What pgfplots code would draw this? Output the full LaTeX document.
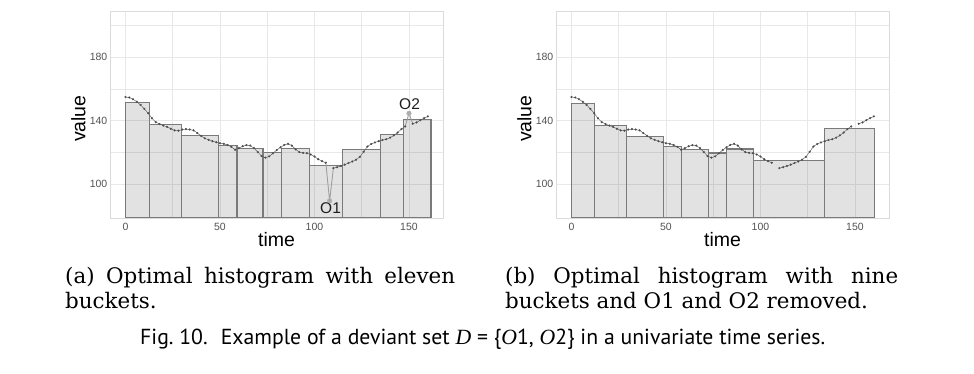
\documentclass[border=0pt]{standalone}
\usepackage{pgfplots}
\pgfplotsset{compat=1.18}
\usepackage{pgfplotstable}
\usepackage{graphicx}
\usepackage{fontspec}
\setmainfont{Liberation Sans}
\newfontfamily\capserif{DejaVu Serif}
\newfontfamily\capsans{PT Sans}
\newfontfamily\capmath{Liberation Serif}

\pgfplotstableread{
t v
0 155.0
2 154.7
4 153.6
6 152.0
8 150.0
10 147.5
12 144.8
14 141.6
16 139.2
18 138.0
20 137.0
22 136.2
24 135.0
26 134.0
28 133.8
30 134.5
32 134.8
34 134.5
36 134.0
38 132.3
40 130.5
42 129.0
44 128.0
46 127.2
48 126.5
50 125.9
52 125.5
54 124.8
56 123.6
58 121.8
60 122.8
62 124.0
64 124.7
66 124.4
68 122.8
70 120.3
72 117.8
74 116.8
76 117.6
78 119.5
80 121.6
82 123.3
84 124.8
86 125.5
88 124.4
90 122.0
92 120.3
94 119.8
96 119.6
98 118.8
100 117.5
102 115.8
104 114.6
106 113.6
108 nan
110 110.2
112 110.8
114 111.6
116 112.4
118 113.4
120 114.4
122 115.5
124 117.3
126 120.5
128 123.8
130 125.4
132 126.4
134 127.2
136 127.9
138 128.4
140 129.4
142 130.8
144 132.6
146 134.8
148 136.5
150 nan
152 138.2
154 139.0
156 140.4
158 141.7
160 142.8
}\series

\pgfplotstableread{
t v
106 113.6
108 89.6
110 110.2
}\grayA

\pgfplotstableread{
t v
148 136.5
150 144.7
152 138.2
}\grayB

\newcommand{\bucket}[3]{\addplot[barst] coordinates {(#1,79.2) (#1,#3) (#2,#3) (#2,79.2)} -- cycle;}

\pgfplotsset{
  barst/.style={draw=black!52, line width=1.2pt, fill=black, fill opacity=0.115, draw opacity=1, mark=none},
  serst/.style={color=black!65, line width=0.45pt, mark=*, mark size=0.85pt, mark options={fill=black!90, draw=none}},
  myax/.style={
    scale only axis, width=333pt, height=207.3pt,
    xmin=-8.2, xmax=168, ymin=78.6, ymax=209.2,
    xtick={0,50,100,150}, ytick={100,140,180},
    minor xtick={25,75,125}, minor ytick={120,160,200},
    grid=both,
    major grid style={color=black!9, line width=0.7pt},
    minor grid style={color=black!9, line width=0.7pt},
    axis line style={draw=black!14, line width=0.8pt},
    major tick length=0pt, minor tick length=0pt,
    /pgf/number format/assume math mode=true,
    ticklabel style={font=\fontsize{10.5}{12}\selectfont, text=black!68},
    xticklabel style={anchor=center, yshift=-8.5pt},
    yticklabel style={anchor=east, inner sep=0pt, xshift=-2.5pt},
    xlabel={time}, ylabel={value},
    every axis x label/.style={at={(axis description cs:0.5,0)}, anchor=center, yshift=-21pt, font=\fontsize{19.5}{22}\selectfont},
    every axis y label/.style={at={(axis description cs:0,0.5)}, rotate=90, anchor=center, yshift=31.5pt, xshift=-4pt, font=\fontsize{19.5}{22}\selectfont},
    unbounded coords=jump,
  }
}

\begin{document}
\begin{tikzpicture}
\useasboundingbox (0,0) rectangle (974pt,374pt);

% (a)
\begin{axis}[myax, at={(110pt,155.7pt)}, anchor=south west]
\bucket{0}{12.5}{151.5}
\bucket{12.5}{29.5}{137.5}
\bucket{29.5}{49}{130.7}
\bucket{49}{59}{124.4}
\bucket{59}{72.8}{122.4}
\bucket{72.8}{82.7}{120.3}
\bucket{82.7}{97.2}{122.8}
\bucket{97.2}{114.8}{111.9}
\bucket{114.8}{134.9}{121.7}
\bucket{134.9}{147.3}{131.6}
\bucket{147.3}{161.7}{140.6}
\addplot[color=black!38, line width=0.9pt] table[x=t,y=v] {\grayA};
\addplot[color=black!38, line width=0.9pt] table[x=t,y=v] {\grayB};
\addplot[serst] table[x=t,y=v] {\series};
\addplot[only marks, mark=*, mark size=2.3pt, color=black!32] coordinates {(108,89.6) (150,144.7)};
\node[font=\fontsize{15.5}{17}\selectfont, text=black!88] at (axis cs:108.5,84.8) {O1};
\node[font=\fontsize{15.5}{17}\selectfont, text=black!88] at (axis cs:150.3,150.4) {O2};
\end{axis}

% (b)
\begin{axis}[myax, at={(556pt,155.7pt)}, anchor=south west]
\bucket{0}{12.3}{151.0}
\bucket{12.3}{29.1}{136.9}
\bucket{29.1}{48.5}{130.1}
\bucket{48.5}{58.3}{123.8}
\bucket{58.3}{72.3}{121.8}
\bucket{72.3}{82}{119.7}
\bucket{82}{96.1}{122.2}
\bucket{96.1}{134}{115.2}
\bucket{134}{160.2}{135.1}
\addplot[serst] table[x=t,y=v] {\series};
\end{axis}

% captions
\node[anchor=base west, inner sep=0pt] at (65pt,90.7pt) {\capserif\fontsize{21.4}{25}\selectfont\makebox[390pt][s]{(a) Optimal histogram with eleven}};
\node[anchor=base west, inner sep=0pt] at (65pt,65.7pt) {\capserif\fontsize{21.4}{25}\selectfont buckets.};
\node[anchor=base west, inner sep=0pt] at (505pt,90.7pt) {\capserif\fontsize{21.4}{25}\selectfont\makebox[393pt][s]{(b) Optimal histogram with nine}};
\node[anchor=base west, inner sep=0pt] at (505pt,65.7pt) {\capserif\fontsize{21.4}{25}\selectfont buckets and O1 and O2 removed.};
\node[anchor=base west, inner sep=0pt] at (140pt,29pt) {\resizebox{685pt}{!}{\capsans\fontsize{18}{20}\selectfont Fig.~10.\hspace{0.6em}Example of a deviant set {\capmath\itshape D} = \{{\capmath\itshape O}1, {\capmath\itshape O}2\} in a univariate time series.}};
\end{tikzpicture}
\end{document}
